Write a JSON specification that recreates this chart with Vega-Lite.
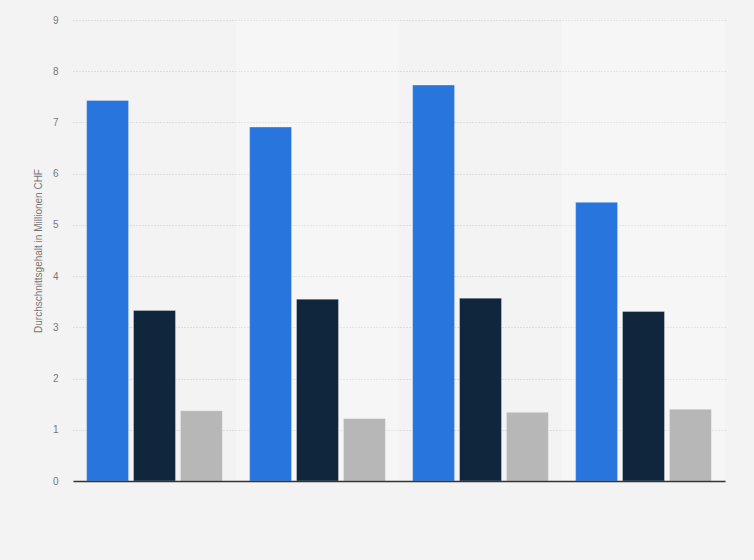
{
  "$schema": "https://vega.github.io/schema/vega-lite/v6.json",
  "width": 652,
  "height": 461,
  "autosize": "none",
  "padding": {"left": 73, "top": 20, "right": 29, "bottom": 79},
  "background": "#f3f3f3",
  "config": {
    "view": {"stroke": null},
    "font": "Liberation Sans"
  },
  "data": {
    "values": [
      {"gruppe": "1", "serie": "A", "wert": 7.43},
      {"gruppe": "1", "serie": "B", "wert": 3.33},
      {"gruppe": "1", "serie": "C", "wert": 1.37},
      {"gruppe": "2", "serie": "A", "wert": 6.91},
      {"gruppe": "2", "serie": "B", "wert": 3.55},
      {"gruppe": "2", "serie": "C", "wert": 1.22},
      {"gruppe": "3", "serie": "A", "wert": 7.73},
      {"gruppe": "3", "serie": "B", "wert": 3.57},
      {"gruppe": "3", "serie": "C", "wert": 1.34},
      {"gruppe": "4", "serie": "A", "wert": 5.44},
      {"gruppe": "4", "serie": "B", "wert": 3.31},
      {"gruppe": "4", "serie": "C", "wert": 1.40}
    ]
  },
  "encoding": {
    "x": {
      "field": "gruppe", "type": "nominal",
      "scale": {"paddingInner": 0, "paddingOuter": 0},
      "axis": {"labels": false, "ticks": false, "title": null, "domain": true, "domainColor": "#333333", "domainWidth": 1.5, "grid": false}
    }
  },
  "layer": [
    {
      "mark": {"type": "rect", "fill": "#ffffff"},
      "encoding": {
        "opacity": {"condition": {"test": "datum.gruppe === '2' || datum.gruppe === '4'", "value": 0.11}, "value": 0}
      }
    },
    {
      "mark": {"type": "bar", "stroke": "#ffffff", "strokeOpacity": 0.3, "strokeWidth": 1},
      "encoding": {
        "xOffset": {"field": "serie", "type": "nominal", "scale": {"paddingInner": 0.106, "paddingOuter": 0.29}},
        "y": {
          "field": "wert", "type": "quantitative",
          "scale": {"domain": [0, 9], "nice": false},
          "axis": {
            "title": "Durchschnittsgehalt in Millionen CHF",
            "titleFontSize": 10, "titleFontWeight": "normal", "titleColor": "#777777",
            "titlePadding": 9,
            "values": [0, 1, 2, 3, 4, 5, 6, 7, 8, 9],
            "labelFontSize": 10, "labelColor": "#777777", "labelPadding": 15,
            "ticks": false, "domain": false,
            "grid": true, "gridColor": "#c4c4c4", "gridDash": [1, 2], "gridWidth": 1
          }
        },
        "color": {
          "field": "serie", "type": "nominal",
          "scale": {"domain": ["A", "B", "C"], "range": ["#2876dd", "#10263d", "#b7b7b7"]},
          "legend": null
        }
      }
    }
  ]
}
